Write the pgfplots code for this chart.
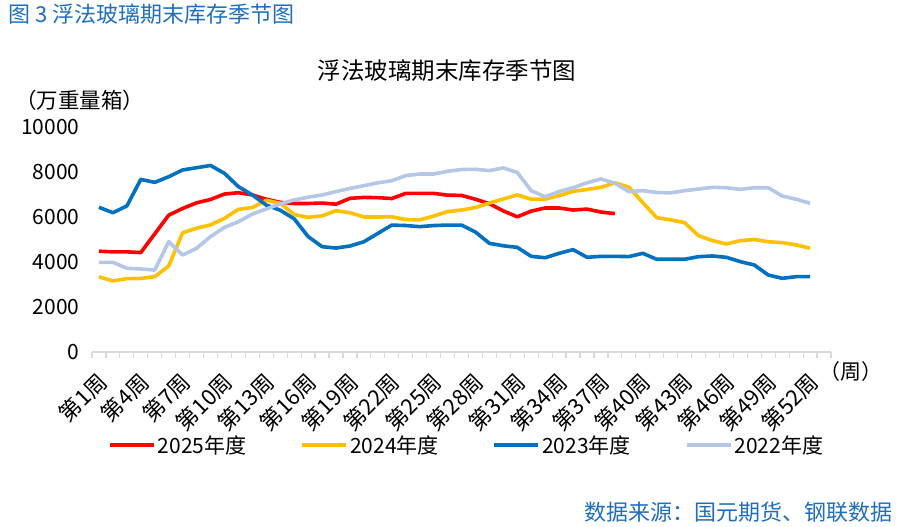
\documentclass[border=0pt]{standalone}
\usepackage{fontspec}
\setmainfont{Noto Sans CJK SC}
\usepackage{pgfplots}
\usepackage{pgfplotstable}
\pgfplotsset{compat=1.18}

\definecolor{c25}{RGB}{255,0,0}
\definecolor{c24}{RGB}{255,192,0}
\definecolor{c23}{RGB}{0,112,192}
\definecolor{c22}{RGB}{180,199,231}
\definecolor{capblue}{RGB}{31,110,190}
\definecolor{axisgray}{RGB}{217,217,217}

% weekly inventory, 10k weight boxes
\pgfplotstableread{
wk y25 y24 y23 y22
1  4480 3340 6430 3985
2  4450 3160 6190 3985
3  4450 3260 6490 3720
4  4420 3270 7670 3690
5  5250 3350 7540 3640
6  6080 3820 7790 4900
7  6380 5300 8090 4310
8  6630 5500 8190 4610
9  6780 5650 8290 5130
10 7020 5940 7940 5540
11 7080 6340 7350 5790
12 6980 6420 6980 6130
13 6790 6740 6530 6360
14 6650 6610 6300 6580
15 6600 6110 5920 6760
16 6600 5985 5130 6880
17 6620 6050 4680 6980
18 6570 6280 4620 7130
19 6830 6190 4710 7270
20 6870 6000 4900 7390
21 6860 6000 5270 7520
22 6820 6010 5640 7610
23 7050 5890 5620 7840
24 7050 5870 5570 7910
25 7050 6040 5620 7910
26 6970 6240 5640 8030
27 6960 6310 5640 8110
28 6790 6420 5330 8120
29 6590 6620 4830 8060
30 6270 6800 4720 8180
31 6010 6980 4650 7980
32 6260 6790 4250 7170
33 6400 6790 4190 6900
34 6400 6950 4385 7130
35 6310 7140 4550 7300
36 6350 7220 4210 7520
37 6220 7320 4250 7690
38 6150 7520 4250 7500
39 nan  7330 4240 7130
40 nan  6640 4385 7170
41 nan  5970 4120 7090
42 nan  5870 4120 7070
43 nan  5750 4120 7170
44 nan  5170 4237 7240
45 nan  4950 4267 7320
46 nan  4800 4207 7300
47 nan  4950 4015 7230
48 nan  5000 3866 7300
49 nan  4900 3422 7300
50 nan  4860 3274 6930
51 nan  4760 3348 6790
52 nan  4610 3348 6610
}\glassdata

\begin{document}
\begin{tikzpicture}
\useasboundingbox (0,0) rectangle (903pt,527pt);
\begin{axis}[
    at={(92pt,175pt)}, anchor=south west,
    scale only axis,
    width=739pt, height=225pt,
    xmin=0.5, xmax=53.5,
    ymin=0, ymax=10000,
    axis x line*=bottom,
    axis y line*=left,
    x axis line style={draw=axisgray, line width=1.5pt, -},
    y axis line style={draw=none},
    ytick={0,2000,...,10000},
    ytick style={draw=none},
    scaled y ticks=false,
    /pgf/number format/1000 sep={},
    /pgf/number format/assume math mode=true,
    yticklabel style={font=\fontsize{21}{24}\selectfont, anchor=east, xshift=-9pt},
    xtick={1,4,...,52},
    xticklabels={第1周,第4周,第7周,第10周,第13周,第16周,第19周,第22周,第25周,第28周,第31周,第34周,第37周,第40周,第43周,第46周,第49周,第52周},
    major x tick style={draw=none},
    xticklabel style={font=\fontsize{22}{25}\selectfont, rotate=45, anchor=east, xshift=-12pt, yshift=-21pt},
    extra x ticks={0.5,1.5,...,53.5},
    extra x tick labels={},
    extra x tick style={major tick length=6pt, tick align=outside,
        major x tick style={draw=axisgray, line width=1.2pt}},
    legend columns=4,
    legend style={at={(0.507,-0.413)}, anchor=center, draw=none, fill=none,
        font=\fontsize{21}{24}\selectfont,
        /tikz/every even column/.append style={column sep=52pt}},
    legend image code/.code={\draw[#1] (0pt,0pt) -- (44pt,0pt);},
    every axis plot/.append style={line width=3.6pt, line join=round, no markers},
]
\addplot[c25] table[x=wk, y=y25] {\glassdata};
\addlegendentry{2025年度}
\addplot[c24] table[x=wk, y=y24] {\glassdata};
\addlegendentry{2024年度}
\addplot[c23] table[x=wk, y=y23] {\glassdata};
\addlegendentry{2023年度}
\addplot[c22] table[x=wk, y=y22] {\glassdata};
\addlegendentry{2022年度}
\end{axis}
\node[anchor=west, inner sep=0pt, text=capblue, font=\fontsize{22}{26}\selectfont] at (8pt,513pt) {图 3 浮法玻璃期末库存季节图};
\node[font=\fontsize{23.5}{28}\selectfont] at (447pt,456pt) {浮法玻璃期末库存季节图};
\node[anchor=west, inner sep=0pt, font=\fontsize{21.5}{25}\selectfont] at (15pt,427pt) {（万重量箱）};
\node[anchor=west, inner sep=0pt, font=\fontsize{21}{24}\selectfont] at (819pt,155pt) {（周）};
\node[anchor=east, inner sep=0pt, text=capblue, font=\fontsize{22}{26}\selectfont] at (893pt,15pt) {数据来源：国元期货、钢联数据};
\end{tikzpicture}
\end{document}
